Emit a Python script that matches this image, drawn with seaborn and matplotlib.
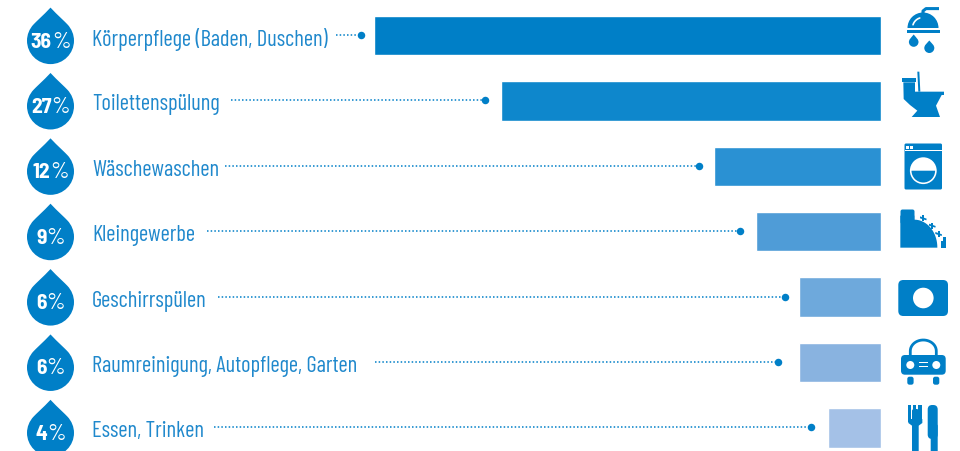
import numpy as np
import pandas as pd
import seaborn as sns
import matplotlib.pyplot as plt
from matplotlib.patches import Circle, FancyBboxPatch, PathPatch, Polygon, Rectangle, Wedge
from matplotlib.path import Path

categories = [
    "Körperpflege (Baden, Duschen)", "Toilettenspülung", "Wäschewaschen",
    "Kleingewerbe", "Geschirrspülen", "Raumreinigung, Autopflege, Garten",
    "Essen, Trinken",
]
share_labels = ["36", "27", "12", "9", "6", "6", "4"]
bar_values = [36, 27, 11.9, 8.85, 5.85, 5.85, 3.78]
bar_colors = ["#007FC7", "#0E87CC", "#2A91D3", "#4F9CD7", "#6EA9DC", "#89B3E0", "#A4C1E7"]

# leader lines, in pixels
leader_start = [336, 231, 225, 207, 218, 375, 214]
leader_end = [361, 485, 699, 740, 785, 778, 811]

BLUE = "#007FC7"
TEXT = "#1F88CC"
ROW_TOP = 36.6
ROW_STEP = 65.37
PX_PER_VALUE = 14.07
ZERO_X = 881

sns.set_theme(style="white")
plt.rcParams["font.family"] = ["Barlow Condensed", "Barlow Semi Condensed", "Roboto", "DejaVu Sans"]

fig = plt.figure(figsize=(9.6, 4.52), dpi=100)
ax = fig.add_axes([0, 0, 1, 1])

df = pd.DataFrame({"category": categories, "value": bar_values})
sns.barplot(data=df, x="value", y="category", hue="category", palette=bar_colors,
            saturation=1, legend=False, width=0.605, ax=ax)
ax.set_xlim(ZERO_X / PX_PER_VALUE, (ZERO_X - 960) / PX_PER_VALUE)
ax.set_ylim((452 - ROW_TOP) / ROW_STEP, -ROW_TOP / ROW_STEP)
ax.axis("off")

# overlay in pixel coordinates for drops, labels and icons
ov = fig.add_axes([0, 0, 1, 1])
ov.set_xlim(0, 960)
ov.set_ylim(452, 0)
ov.axis("off")
ov.patch.set_alpha(0)


def drop_path(cx, cy, r, tip):
    k = 0.5523 * r
    verts = [
        (cx, cy - tip),
        (cx + 0.3 * r, cy - tip + 0.32 * r), (cx + 0.62 * r, cy - 0.8 * r), (cx + 0.72 * r, cy - 0.69 * r),
        (cx + 0.9 * r, cy - 0.5 * r), (cx + r, cy - 0.25 * r), (cx + r, cy),
        (cx + r, cy + k), (cx + k, cy + r), (cx, cy + r),
        (cx - k, cy + r), (cx - r, cy + k), (cx - r, cy),
        (cx - r, cy - 0.25 * r), (cx - 0.9 * r, cy - 0.5 * r), (cx - 0.72 * r, cy - 0.69 * r),
        (cx - 0.62 * r, cy - 0.8 * r), (cx - 0.3 * r, cy - tip + 0.32 * r), (cx, cy - tip),
    ]
    codes = [Path.MOVETO] + [Path.CURVE4] * 18
    return Path(verts, codes)


def rrect(x0, y0, x1, y1, r, color=BLUE):
    ov.add_patch(FancyBboxPatch((x0 + r, y0 + r), x1 - x0 - 2 * r, y1 - y0 - 2 * r,
                                boxstyle=f"round,pad={r}", fc=color, ec="none"))


def zpoly(points, ox, oy, color=BLUE):
    pts = [(ox + x / 3, oy + y / 3) for x, y in points]
    ov.add_patch(Polygon(pts, closed=True, fc=color, ec="none"))


def draw_shower():
    ov.add_patch(Wedge((923, 29), 15.5, 180, 360, fc=BLUE, ec="none"))
    ov.add_patch(Rectangle((907, 31), 33, 2.6, fc=BLUE, ec="none"))
    ov.plot([923, 923, 926, 939], [15, 12, 9.6, 9.6], color=BLUE, lw=2.2, solid_capstyle="butt")
    t = np.linspace(np.pi * 1.1, np.pi * 1.4, 12)
    ov.plot(923 + 10.5 * np.cos(t), 29 + 10.5 * np.sin(t), color="white", lw=1.2)
    ov.add_patch(PathPatch(drop_path(913.7, 43, 4.8, 7.5), fc=BLUE, ec="none"))
    ov.add_patch(PathPatch(drop_path(929.3, 49, 5, 7.5), fc=BLUE, ec="none"))


def draw_toilet():
    ox, oy = 860, 0
    zpoly([(126, 237), (168, 237), (168, 250), (126, 250)], ox, oy)
    zpoly([(130, 250), (165, 250), (165, 278), (252, 278), (252, 288), (245, 288),
           (228, 320), (240, 354), (155, 354), (172, 335), (150, 318), (131, 300)], ox, oy)
    zpoly([(172, 218), (178, 218), (181, 278), (175, 278)], ox, oy)


def draw_washer():
    rrect(904.5, 144.5, 942, 190.5, 1.5)
    ov.add_patch(Rectangle((904.5, 150.6), 37.5, 1, fc="white", ec="none"))
    ov.add_patch(Rectangle((906, 147), 2.8, 2.8, fc="white", ec="none"))
    ov.add_patch(Rectangle((910, 147), 2.8, 2.8, fc="white", ec="none"))
    ov.add_patch(Circle((923.3, 171.7), 13.4, fc="white", ec="none"))
    ov.add_patch(Wedge((923.3, 171.7), 11.8, 0, 180, fc=BLUE, ec="none"))


def draw_sprinkler():
    ox, oy = 860, 200
    rrect(900.5, 210.5, 914.5, 225, 2)
    theta = np.linspace(np.pi / 2, 0, 20)
    arc = [(163 + 69 * np.cos(a), 145 - 83 * np.sin(a)) for a in theta]
    zpoly([(121, 50), (163, 50)] + arc + [(232, 146), (121, 146)], ox, oy)
    zpoly([(242, 125), (250, 125), (250, 113), (258, 113), (258, 146), (242, 146)], ox, oy)
    for x, y in [(190, 58), (217, 80), (236, 105)]:
        zpoly([(x - 10, y - 6), (x + 10, y + 1), (x + 9, y + 6), (x - 10, y)], ox, oy)
        zpoly([(x - 3, y - 9), (x + 3, y - 9), (x + 3, y + 9), (x - 3, y + 9)], ox, oy)


def draw_dish():
    rrect(898.3, 281, 948, 317, 5)
    ov.add_patch(Circle((923.3, 299), 10.3, fc="white", ec="none"))


def draw_car():
    t = np.linspace(0, np.pi, 24)
    x = 923.3 + 13 * np.cos(t)
    y = 352 - 11 * np.sin(t)
    ov.plot(np.r_[x[0], x, x[-1]], np.r_[356, y, 356], color=BLUE, lw=2, solid_capstyle="butt")
    rrect(901, 356, 945.7, 375.7, 4)
    for cx in (910.3, 936.3):
        ov.add_patch(Circle((cx, 366), 4, fc="white", ec="none"))
    for cy in (363.7, 367.7):
        ov.add_patch(Rectangle((918.7, cy - 0.7), 9.3, 1.4, fc="white", ec="none"))
    for x0 in (907.3, 933):
        rrect(x0, 377.7, x0 + 6.3, 385.7, 2.2)


def draw_cutlery():
    ox, oy = 860, 200
    for x0, x1 in [(145, 153), (160, 167), (175, 187)]:
        zpoly([(x0, 618), (x1, 618), (x1, 668), (x0, 668)], ox, oy)
    zpoly([(145, 660), (187, 660), (187, 672), (176, 680), (156, 680), (145, 672)], ox, oy)
    rrect(912, 410, 918.7, 456, 2)
    rrect(927.7, 406, 937.7, 440, 4.5)
    rrect(930.7, 425, 937.7, 456, 2)
    ov.add_patch(Rectangle((927.7, 412), 4, 18.7, fc=BLUE, ec="none"))


icons = [draw_shower, draw_toilet, draw_washer, draw_sprinkler, draw_dish, draw_car, draw_cutlery]

renderer = fig.canvas.get_renderer()
for i, name in enumerate(categories):
    y = ROW_TOP + i * ROW_STEP

    # drop with percentage
    ov.add_patch(PathPatch(drop_path(50.5, y + 5, 23.5, 33), fc=BLUE, ec="none"))
    num = ov.text(0, y + 5.5, share_labels[i], color="white", fontsize=15.5, fontweight="bold",
                  family=["Barlow Semi Condensed", "Roboto", "DejaVu Sans"], ha="left", va="center")
    pct = ov.text(0, y + 5.5, "%", color="white", fontsize=17, ha="left", va="center")
    w_num = num.get_window_extent(renderer).width
    w_pct = pct.get_window_extent(renderer).width
    left = 50.5 - (w_num + w_pct) / 2
    num.set_x(left)
    pct.set_x(left + w_num)

    ov.text(92, y + 3, name, color=TEXT, fontsize=16.2, ha="left", va="center")

    # leader
    ov.plot([leader_start[i], leader_end[i]], [y - 0.5, y - 0.5], color=BLUE, lw=1.1,
            linestyle=(0, (1, 1.4)))
    ov.plot([leader_end[i]], [y - 0.5], "o", color=BLUE, ms=5.4, mew=0)

    icons[i]()

plt.savefig("out.png", dpi=100)
plt.close()
